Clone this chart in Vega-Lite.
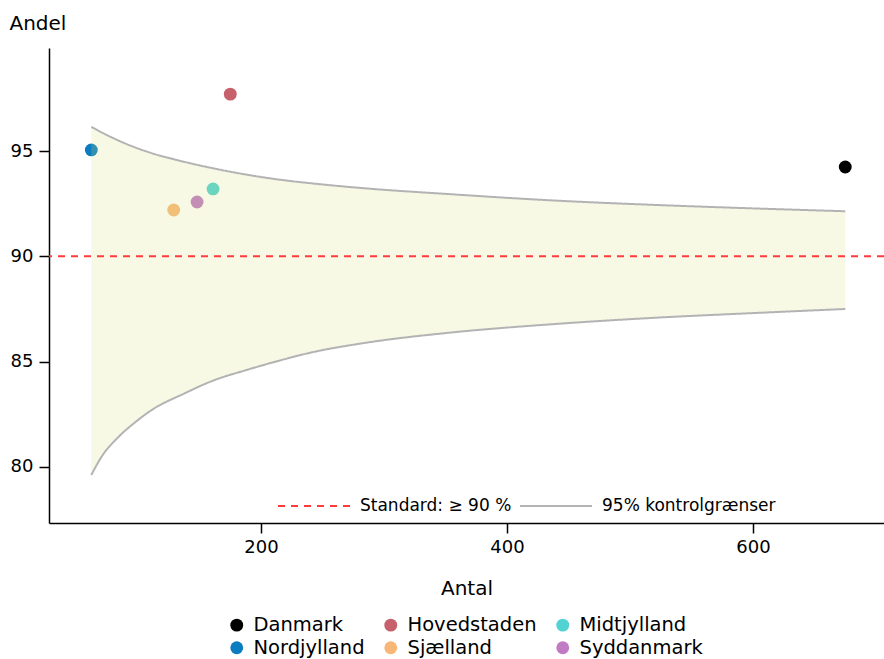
{
  "$schema": "https://vega.github.io/schema/vega-lite/v6.json",
  "width": 835,
  "height": 475,
  "autosize": {"type": "none"},
  "padding": {"left": 49, "top": 48, "right": 0, "bottom": 136},
  "config": {
    "font": "DejaVu Sans",
    "view": {"stroke": null},
    "axis": {
      "grid": false,
      "domainColor": "#000000",
      "domainWidth": 1.5,
      "tickColor": "#000000",
      "tickWidth": 1.5,
      "tickSize": 10,
      "labelColor": "#000000",
      "labelFontSize": 18,
      "titleColor": "#000000",
      "titleFontSize": 20,
      "titleFontWeight": "normal"
    },
    "legend": {"padding": 0, "labelColor": "#000000", "labelLimit": 400}
  },
  "datasets": {
    "regioner": [
      {"region": "Danmark", "antal": 675, "andel": 94.24},
      {"region": "Hovedstaden", "antal": 175, "andel": 97.7},
      {"region": "Midtjylland", "antal": 161, "andel": 93.2},
      {"region": "Nordjylland", "antal": 62, "andel": 95.05},
      {"region": "Sjælland", "antal": 129, "andel": 92.2},
      {"region": "Syddanmark", "antal": 148, "andel": 92.58}
    ],
    "grenser": [
      {"antal": 62, "nedre": 79.62, "ovre": 96.15},
      {"antal": 70.5, "nedre": 80.5, "ovre": 95.88},
      {"antal": 84, "nedre": 81.42, "ovre": 95.5},
      {"antal": 97.6, "nedre": 82.12, "ovre": 95.17},
      {"antal": 111, "nedre": 82.7, "ovre": 94.9},
      {"antal": 138, "nedre": 83.5, "ovre": 94.48},
      {"antal": 161, "nedre": 84.1, "ovre": 94.18},
      {"antal": 188, "nedre": 84.6, "ovre": 93.88},
      {"antal": 215, "nedre": 85.05, "ovre": 93.64},
      {"antal": 242, "nedre": 85.45, "ovre": 93.46},
      {"antal": 280, "nedre": 85.85, "ovre": 93.25},
      {"antal": 354, "nedre": 86.38, "ovre": 92.95},
      {"antal": 435, "nedre": 86.77, "ovre": 92.66},
      {"antal": 516, "nedre": 87.07, "ovre": 92.45},
      {"antal": 598, "nedre": 87.3, "ovre": 92.28},
      {"antal": 675, "nedre": 87.5, "ovre": 92.14}
    ]
  },
  "layer": [
    {
      "data": {"name": "regioner"},
      "mark": {"type": "circle", "size": 165, "opacity": 1},
      "encoding": {
        "x": {
          "field": "antal",
          "type": "quantitative",
          "title": "Antal",
          "scale": {"domain": [27.6, 706.5], "nice": false, "zero": false},
          "axis": {"values": [200, 400, 600], "labelPadding": 5, "titleY": 71, "titleBaseline": "alphabetic"}
        },
        "y": {
          "field": "andel",
          "type": "quantitative",
          "title": "Andel",
          "scale": {"domain": [77.34, 99.89], "nice": false, "zero": false},
          "axis": {
            "values": [80, 85, 90, 95],
            "labelPadding": 6,
            "titleAngle": 0,
            "titleAlign": "left",
            "titleBaseline": "alphabetic",
            "titleX": -40,
            "titleY": -19
          }
        },
        "fill": {
          "field": "region",
          "type": "nominal",
          "scale": {
            "domain": ["Danmark", "Nordjylland", "Hovedstaden", "Sjælland", "Midtjylland", "Syddanmark"],
            "range": ["#000000", "#0a7cbf", "#c6606b", "#f8b777", "#52d3d1", "#c07bc4"]
          },
          "legend": {
            "title": null,
            "orient": "none",
            "legendX": 178,
            "legendY": 567,
            "columns": 3,
            "symbolType": "circle",
            "symbolSize": 165,
            "symbolStrokeWidth": 0,
            "labelFontSize": 19.5,
            "labelOffset": 7,
            "columnPadding": 16,
            "rowPadding": 2
          }
        }
      }
    },
    {
      "data": {"name": "grenser"},
      "mark": {"type": "area", "color": "#d8e27f", "opacity": 0.2},
      "encoding": {
        "x": {"field": "antal", "type": "quantitative", "title": "Antal"},
        "y": {"field": "nedre", "type": "quantitative", "title": "Andel"},
        "y2": {"field": "ovre"}
      }
    },
    {
      "data": {"name": "grenser"},
      "transform": [{"fold": ["ovre", "nedre"], "as": ["grense", "verdi"]}],
      "mark": {"type": "line", "strokeWidth": 2, "interpolate": "monotone"},
      "encoding": {
        "x": {"field": "antal", "type": "quantitative", "title": "Antal"},
        "y": {"field": "verdi", "type": "quantitative", "title": "Andel"},
        "detail": {"field": "grense"},
        "stroke": {
          "datum": "95% kontrolgrænser",
          "scale": {
            "domain": ["Standard: ≥ 90 %", "95% kontrolgrænser"],
            "range": ["#ff3b3b", "#b3b3b3"]
          },
          "legend": {
            "title": null,
            "orient": "none",
            "direction": "horizontal",
            "legendX": 228,
            "legendY": 421,
            "symbolType": "stroke",
            "symbolSize": 5184,
            "symbolStrokeWidth": 2,
            "labelFontSize": 17,
            "labelOffset": 9,
            "columnPadding": 4
          }
        },
        "strokeDash": {
          "datum": "95% kontrolgrænser",
          "scale": {
            "domain": ["Standard: ≥ 90 %", "95% kontrolgrænser"],
            "range": [[7, 6], [1, 0]]
          },
          "legend": {
            "title": null,
            "orient": "none",
            "direction": "horizontal",
            "legendX": 228,
            "legendY": 421,
            "symbolType": "stroke",
            "symbolSize": 5184,
            "symbolStrokeWidth": 2,
            "labelFontSize": 17,
            "labelOffset": 9,
            "columnPadding": 4
          }
        }
      }
    },
    {
      "data": {"values": [{"standard": 90}]},
      "mark": {"type": "rule", "strokeWidth": 2},
      "encoding": {
        "y": {"field": "standard", "type": "quantitative", "title": "Andel"},
        "stroke": {"datum": "Standard: ≥ 90 %"},
        "strokeDash": {"datum": "Standard: ≥ 90 %"}
      }
    }
  ]
}
